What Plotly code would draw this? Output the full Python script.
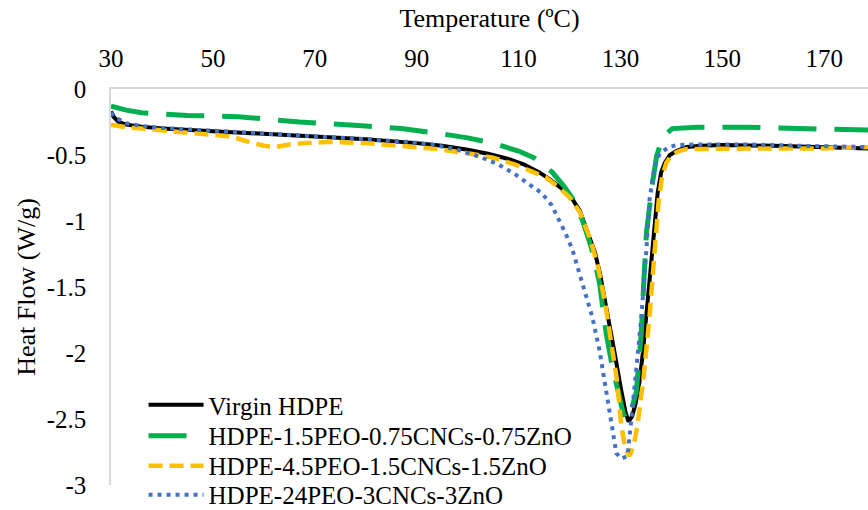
import plotly.graph_objects as go

# DSC melting curves: temperature (ºC) vs heat flow (W/g)
virgin_T = [30, 30.5, 31.5, 33, 36, 40, 50, 60, 70, 80, 90, 95, 100, 104, 108, 111,
            114, 116, 118, 120, 122, 123.5, 125, 126, 127, 128, 129, 130, 131, 131.6,
            132.3, 133, 133.7, 134.4, 135.1, 135.7, 136.3, 136.8, 137.3, 138, 138.7,
            139.7, 141, 143, 146, 150, 160, 170, 178.6]
virgin_HF = [-0.17, -0.21, -0.25, -0.27, -0.285, -0.30, -0.32, -0.34, -0.36, -0.38, -0.41, -0.43, -0.46, -0.49, -0.53, -0.57,
             -0.63, -0.68, -0.74, -0.80, -0.92, -1.07, -1.24, -1.40, -1.60, -1.82, -2.03, -2.25, -2.45, -2.52,
             -2.48, -2.38, -2.23, -2.00, -1.73, -1.47, -1.22, -1.00, -0.79, -0.63, -0.56,
             -0.50, -0.47, -0.44, -0.43, -0.425, -0.43, -0.44, -0.45]

peo15_T = [30, 33, 36, 45, 55, 67, 80, 87, 95, 100, 105, 110, 113, 116.6, 119, 120.6,
           122.5, 124.3, 125.9, 127.2, 128.3, 129.4, 130.5, 131.2, 132, 133.1, 134.1,
           134.6, 135.1, 136.3, 137.1, 138.3, 140.2, 145, 155, 165, 178.6]
peo15_HF = [-0.13, -0.16, -0.18, -0.20, -0.21, -0.25, -0.28, -0.30, -0.34, -0.37, -0.41, -0.47, -0.52, -0.63, -0.74, -0.83,
            -0.99, -1.20, -1.47, -1.85, -2.08, -2.28, -2.45, -2.51, -2.45, -2.30, -1.85,
            -1.45, -1.09, -0.71, -0.51, -0.36, -0.30, -0.29, -0.29, -0.30, -0.31]

peo45_T = [30, 33, 36, 42, 47, 53.6, 57, 60, 62.3, 65, 68, 73, 80, 86.5, 93, 99.7, 105,
           109.5, 113, 115.4, 118, 120, 122, 124, 125.5, 127, 128.3, 129.3, 130.2, 131,
           131.8, 132.6, 133.3, 134.5, 135.7, 136.3, 136.9, 137.5, 138.2, 139, 140,
           141.5, 143, 150, 160, 170, 178.6]
peo45_HF = [-0.27, -0.29, -0.30, -0.32, -0.335, -0.36, -0.40, -0.43, -0.44, -0.42, -0.41, -0.40, -0.41, -0.43, -0.45, -0.485, -0.52,
            -0.575, -0.63, -0.67, -0.75, -0.82, -0.93, -1.13, -1.33, -1.62, -1.95, -2.20, -2.56, -2.73,
            -2.78, -2.70, -2.56, -2.20, -1.73, -1.40, -1.10, -0.85, -0.66, -0.56, -0.50,
            -0.47, -0.455, -0.45, -0.45, -0.45, -0.44]

peo24_T = [30, 31, 33, 36, 40, 50, 60, 70, 80, 88, 93, 98, 102.8, 106, 109.5, 112, 114.6,
           116.5, 118, 119.3, 120.6, 122.5, 124.5, 125.9, 127.2, 128.2, 129.2, 130.2,
           131.4, 132.2, 133.1, 134.1, 135.1, 135.7, 136.7, 137.7, 139.5, 141, 145, 155,
           165, 178.6]
peo24_HF = [-0.18, -0.22, -0.26, -0.28, -0.295, -0.315, -0.335, -0.355, -0.38, -0.40, -0.42, -0.46, -0.52, -0.57, -0.65, -0.72, -0.79,
            -0.88, -0.99, -1.10, -1.22, -1.47, -1.73, -1.98, -2.28, -2.53, -2.76, -2.80,
            -2.78, -2.48, -2.11, -1.73, -1.22, -0.84, -0.59, -0.49, -0.44, -0.425, -0.42, -0.42,
            -0.43, -0.44]

series_names = ["Virgin HDPE", "HDPE-1.5PEO-0.75CNCs-0.75ZnO",
                "HDPE-4.5PEO-1.5CNCs-1.5ZnO", "HDPE-24PEO-3CNCs-3ZnO"]

x_ticks = [30, 50, 70, 90, 110, 130, 150, 170]
y_ticks = [0, -0.5, -1, -1.5, -2, -2.5, -3]
y_tick_text = ["0", "-0.5", "-1", "-1.5", "-2", "-2.5", "-3"]

FONT = "Liberation Serif, Times New Roman, serif"

styles = [
    dict(color="#000000", width=4, dash="solid"),
    dict(color="#00b050", width=5, dash="38px,18px"),
    dict(color="#ffc000", width=4.5, dash="14px,7px"),
    dict(color="#4472c4", width=4, dash="4px,5px"),
]

# one legend per series so the rows sit at an even, tight pitch
legend_ids = ["legend", "legend2", "legend3", "legend4"]
legend_rows = [0.202, 0.124, 0.048, -0.025]

fig = go.Figure()
for name, xs, ys, st, lid in zip(series_names,
                                 [virgin_T, peo15_T, peo45_T, peo24_T],
                                 [virgin_HF, peo15_HF, peo45_HF, peo24_HF],
                                 styles, legend_ids):
    fig.add_trace(go.Scatter(x=xs, y=ys, mode="lines", name=name, line=st,
                             legend=lid))

legend_style = dict(x=0.043, xanchor="left", yanchor="middle",
                    bgcolor="rgba(0,0,0,0)", font=dict(family=FONT, size=25),
                    itemwidth=55, borderwidth=0)

fig.update_layout(
    width=868, height=510,
    margin=dict(l=111, r=0, t=89, b=25, autoexpand=False),
    paper_bgcolor="white", plot_bgcolor="white",
    font=dict(family=FONT, size=24, color="#000000"),
    showlegend=True,
    legend=dict(legend_style, y=legend_rows[0]),
    legend2=dict(legend_style, y=legend_rows[1]),
    legend3=dict(legend_style, y=legend_rows[2]),
    legend4=dict(legend_style, y=legend_rows[3]),
    xaxis=dict(side="top", range=[30, 178.6], tickvals=x_ticks,
               showline=True, linecolor="#d9d9d9", linewidth=1.5,
               showgrid=False, zeroline=False, ticks="",
               tickfont=dict(size=25), ticklabelstandoff=10,
               title=dict(text="Temperature (ºC)", standoff=10,
                          font=dict(family=FONT, size=26))),
    yaxis=dict(range=[-3, 0], tickvals=y_ticks, ticktext=y_tick_text,
               showline=True, linecolor="#d9d9d9", linewidth=1.5,
               showgrid=False, zeroline=False, ticks="",
               tickfont=dict(size=25), ticklabelstandoff=18,
               title=dict(text="Heat Flow (W/g)", standoff=4,
                          font=dict(family=FONT, size=26))),
)

fig.write_html("out.html")
